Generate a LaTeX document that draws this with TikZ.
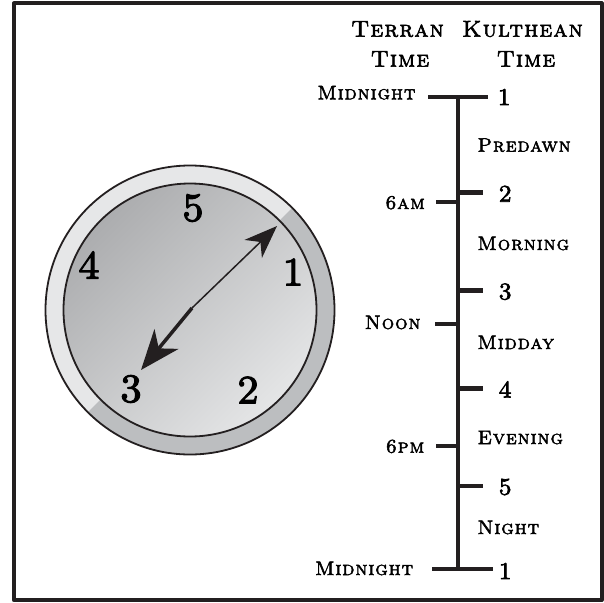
\documentclass[tikz,border=0pt]{standalone}
\usepackage{fontspec}
\usetikzlibrary{arrows.meta}
\newfontfamily\capsfont[FakeBold=2.5,LetterSpace=5]{lmromancaps10-regular.otf}
\newfontfamily\dialfont[FakeBold=3]{lmromancaps10-regular.otf}
\definecolor{ink}{RGB}{35,31,32}
\definecolor{ringlight}{RGB}{230,231,232}
\definecolor{ringdark}{RGB}{188,190,192}
\definecolor{facedark}{RGB}{172,173,175}
\definecolor{facelight}{RGB}{228,229,230}

\begin{document}
\begin{tikzpicture}[x=1pt, y=-1pt, line join=round,
		header/.style={font=\capsfont\fontsize{23}{26}\selectfont, anchor=base},
		terran/.style={font=\capsfont\fontsize{19.5}{22}\selectfont, anchor=base east},
		period/.style={font=\capsfont\fontsize{19.5}{22}\selectfont, anchor=base west},
		knum/.style={font=\dialfont\fontsize{24}{24}\selectfont, anchor=west},
		dial/.style={font=\dialfont\fontsize{40}{40}\selectfont},
		bar/.style={ink, line width=4.5pt}]
	\useasboundingbox (0,0) rectangle (604,602);
	\draw[ink, line width=4pt] (13.8,3.5) rectangle (601.5,600);
	% clock
	\coordinate (c) at (190,310);
	\fill[ringlight] (c) circle[radius=144.5];
	\fill[ringdark] (c) -- ++(-45:144.5) arc[start angle=-45, end angle=135, radius=144.5] -- cycle;
	\shade[top color=facedark, bottom color=facelight, shading angle=45] (c) circle[radius=126.5];
	\draw[ink, line width=1.8pt] (c) circle[radius=144.5] (c) circle[radius=126.5];
	\node[dial] (d5) at (193,208) {5};
	\node[dial] (d4) at (89,265) {4};
	\node[dial] (d1) at (293,272) {1};
	\node[dial] (d2) at (248,390) {2};
	\node[dial] (d3) at (131,389) {3};
	\coordinate (hub) at (192,308);
	\coordinate (tipA) at (277,226);
	\coordinate (tipB) at (141,370);
	\draw[ink, line width=1.5pt, -{Stealth[length=33pt, width=25pt, inset=10pt]}] (hub) -- (tipA);
	\draw[ink, line width=3.5pt, -{Stealth[length=40pt, width=31pt, inset=12pt]}] (hub) -- (tipB);
	% time line
	\node[header] (th1) at (397.5,36.7) {Terran};
	\node[header] (th2) at (400,66.7) {Time};
	\node[header] (kh1) at (522.5,36.7) {Kulthean};
	\node[header] (kh2) at (526,66.7) {Time};
	\draw[bar] (458,97) -- (458,569);
	\draw[bar] (428,97) -- (488,97);
	\draw[bar] (432,569) -- (493,569);
	\foreach \y/\x in {202/436, 324/435, 446/436}{\draw[bar] (\x,\y) -- (458,\y);};
	\foreach \y/\n in {192.7/2, 290.7/3, 388.3/4, 486/5}{\draw[bar] (458,\y) -- (483,\y);
		\node[knum] (k\n) at (495,\y+1) {\n};};
	\node[knum] (k1) at (494,97) {1};
	\node[knum] (k6) at (495,571) {1};
	\node[terran] (mid1) at (419,99.3) {Midnight};
	\node[terran] (am6) at (428.3,209) {6am};
	\node[terran] (noon) at (424,329) {Noon};
	\node[terran] (pm6) at (427.7,452.7) {6pm};
	\node[terran] (mid2) at (416.7,575) {Midnight};
	\node[period] (pre) at (474,151.7) {Predawn};
	\node[period] (morn) at (474,250) {Morning};
	\node[period] (midd) at (474,349) {Midday};
	\node[period] (even) at (474,444) {Evening};
	\node[period] (nig) at (474,534) {Night};
\end{tikzpicture}
\end{document}
